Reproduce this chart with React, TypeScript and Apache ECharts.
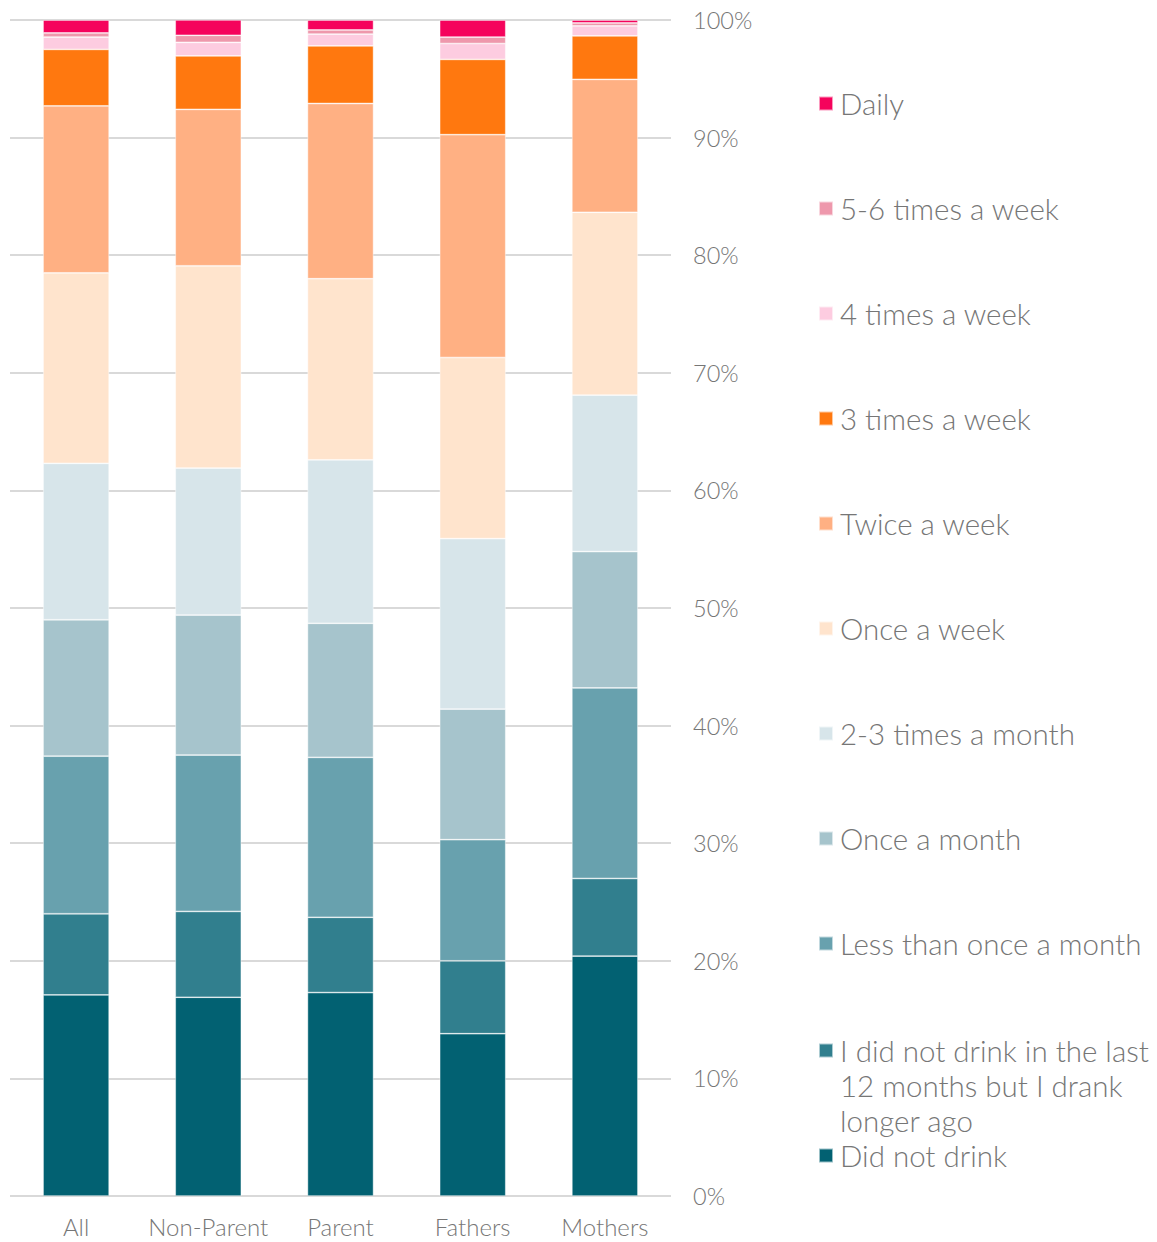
import React, { useEffect, useRef } from "react";
import * as echarts from "echarts";

const categories = ["All", "Non-Parent", "Parent", "Fathers", "Mothers"];

const seriesNames = [
  "Did not drink",
  "I did not drink in the last 12 months but I drank longer ago",
  "Less than once a month",
  "Once a month",
  "2-3 times a month",
  "Once a week",
  "Twice a week",
  "3 times a week",
  "4 times a week",
  "5-6 times a week",
  "Daily",
];

const didNotDrink = [17.1, 16.9, 17.3, 13.8, 20.4];
const notLast12 = [6.9, 7.3, 6.4, 6.2, 6.6];
const lessThanMonthly = [13.4, 13.3, 13.6, 10.3, 16.2];
const onceAMonth = [11.6, 11.9, 11.4, 11.1, 11.6];
const twoThreeMonth = [13.3, 12.5, 13.9, 14.5, 13.3];
const onceAWeek = [16.2, 17.2, 15.4, 15.4, 15.55];
const twiceAWeek = [14.2, 13.3, 14.9, 18.95, 11.3];
const threeAWeek = [4.8, 4.55, 4.9, 6.4, 3.7];
const fourAWeek = [1.05, 1.15, 1.0, 1.35, 0.85];
const fiveSixAWeek = [0.35, 0.6, 0.35, 0.55, 0.25];
const daily = [1.1, 1.3, 0.85, 1.45, 0.25];

const seriesValues = [
  didNotDrink,
  notLast12,
  lessThanMonthly,
  onceAMonth,
  twoThreeMonth,
  onceAWeek,
  twiceAWeek,
  threeAWeek,
  fourAWeek,
  fiveSixAWeek,
  daily,
];

const colors = [
  "#026172",
  "#317F8E",
  "#68A1AE",
  "#A6C4CC",
  "#D7E5EA",
  "#FFE4CD",
  "#FFB083",
  "#FF780F",
  "#FDCCE0",
  "#EE98AC",
  "#F5035C",
];

const yTicks = [0, 10, 20, 30, 40, 50, 60, 70, 80, 90, 100];

const FONT = "Lato";
const TEXT_COLOR = "#767676";

export default function App() {
  const ref = useRef<HTMLDivElement>(null);

  useEffect(() => {
    if (!ref.current) return;
    const chart = echarts.init(ref.current, null, { renderer: "svg" });

    const legendText = {
      fontFamily: FONT,
      fontWeight: 300 as any,
      fontSize: 29.5,
      lineHeight: 35,
      color: TEXT_COLOR,
      padding: [0, 0, 0, 2],
    };

    const mainLegendNames = seriesNames.slice(2).reverse();

    chart.setOption({
      animation: false,
      backgroundColor: "#ffffff",
      grid: { left: 10, right: 486, top: 20, bottom: 46 },
      xAxis: {
        type: "category",
        data: categories,
        axisLine: { show: false },
        axisTick: { show: false },
        axisLabel: {
          interval: 0,
          fontFamily: FONT,
          fontWeight: 300,
          fontSize: 24,
          color: TEXT_COLOR,
          margin: 18,
        },
      },
      yAxis: {
        type: "value",
        position: "right",
        min: yTicks[0],
        max: yTicks[yTicks.length - 1],
        interval: 10,
        axisLine: { show: false },
        axisTick: { show: false },
        splitLine: { lineStyle: { color: "#D9D9D9", width: 2 } },
        axisLabel: {
          fontFamily: FONT,
          fontWeight: 300,
          fontSize: 23.5,
          color: TEXT_COLOR,
          margin: 22,
          formatter: "{value}%",
        },
      },
      legend: [
        {
          orient: "vertical",
          left: 813,
          top: 81,
          itemWidth: 14,
          itemHeight: 14,
          itemGap: 70,
          icon: "rect",
          selectedMode: false,
          data: mainLegendNames,
          textStyle: legendText,
        },
        {
          orient: "vertical",
          left: 813,
          top: 958,
          itemWidth: 14,
          itemHeight: 14,
          icon: "rect",
          selectedMode: false,
          data: [seriesNames[1]],
          formatter: () =>
            "\n\nI did not drink in the last\n12 months but I drank\nlonger ago",
          textStyle: legendText,
        },
        {
          orient: "vertical",
          left: 813,
          top: 1133,
          itemWidth: 14,
          itemHeight: 14,
          icon: "rect",
          selectedMode: false,
          data: [seriesNames[0]],
          textStyle: legendText,
        },
      ],
      series: seriesNames.map((name, i) => ({
        name,
        type: "bar",
        stack: "total",
        barWidth: "50%",
        data: seriesValues[i],
        itemStyle: {
          color: colors[i],
          borderColor: "rgba(255,255,255,0.6)",
          borderWidth: 0.75,
        },
      })),
    });

    return () => chart.dispose();
  }, []);

  return (
    <div
      ref={ref}
      style={{ position: "fixed", left: 0, top: 0, width: 1157, height: 1242 }}
    />
  );
}
